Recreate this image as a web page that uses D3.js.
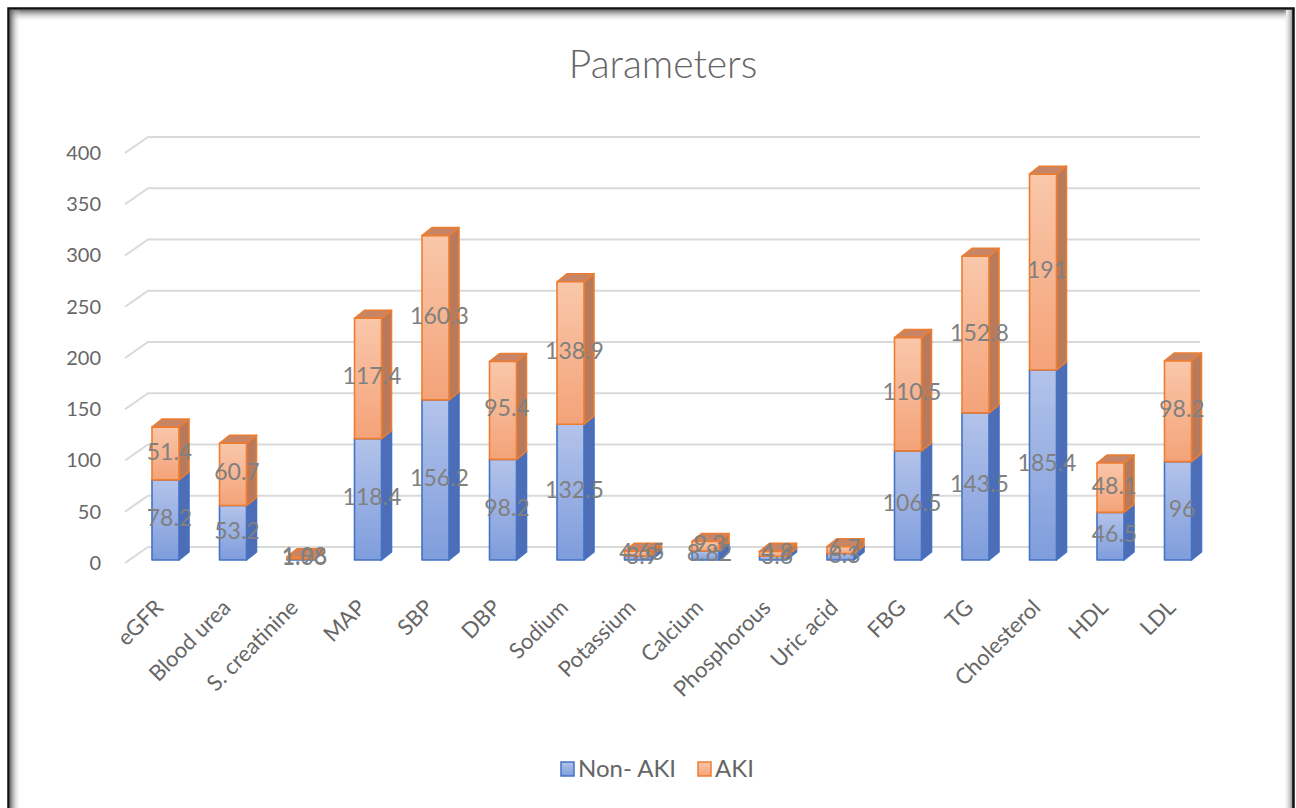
<!DOCTYPE html>
<html>
<head>
<meta charset="utf-8">
<script src="https://cdn.jsdelivr.net/npm/d3@7"></script>
<style>
  html, body { margin: 0; padding: 0; background: #ffffff; }
  svg { display: block; }
</style>
</head>
<body>
<svg id="chart" width="1296" height="808"></svg>
<script>
// Parameter means by group
const categories = ["eGFR", "Blood urea", "S. creatinine", "MAP", "SBP", "DBP", "Sodium",
  "Potassium", "Calcium", "Phosphorous", "Uric acid", "FBG", "TG", "Cholesterol", "HDL", "LDL"];
const nonAki = [78.2, 53.2, 1.06, 118.4, 156.2, 98.2, 132.5, 3.9, 8.82, 3.6, 6.3, 106.5, 143.5, 185.4, 46.5, 96];
const aki    = [51.4, 60.7, 1.98, 117.4, 160.3, 95.4, 138.9, 4.65, 9.3, 4.8, 6.7, 110.5, 152.8, 191, 48.1, 98.2];
const seriesNames = ["Non- AKI", "AKI"];
const yTicks = [0, 50, 100, 150, 200, 250, 300, 350, 400];
const titleText = "Parameters";

const W = 1296, H = 808;
const svg = d3.select("#chart");
const defs = svg.append("defs");

const FONT = "Lato, 'Open Sans', sans-serif";
const TEXT = "#666666";

const styles = [
  { top: "#b3c3ea", bottom: "#7f9ddc", stroke: "#4472c4", side: "#4d6eb6", cap: "#6a8bcf" },
  { top: "#f9c7aa", bottom: "#f4a379", stroke: "#ed7d31", side: "#b87a5a", cap: "#c78566" }
];
styles.forEach((s, i) => {
  const g = defs.append("linearGradient").attr("id", "front" + i)
    .attr("x1", 0).attr("y1", 0).attr("x2", 0).attr("y2", 1);
  g.append("stop").attr("offset", "0%").attr("stop-color", s.top);
  g.append("stop").attr("offset", "100%").attr("stop-color", s.bottom);
});

// Frame with a soft inner shadow
const shadow = defs.append("linearGradient").attr("id", "shadowV").attr("x1", 0).attr("y1", 0).attr("x2", 0).attr("y2", 1);
shadow.append("stop").attr("offset", "0%").attr("stop-color", "#555").attr("stop-opacity", 0.85);
shadow.append("stop").attr("offset", "100%").attr("stop-color", "#fff").attr("stop-opacity", 0);
const shadowH = defs.append("linearGradient").attr("id", "shadowH").attr("x1", 0).attr("y1", 0).attr("x2", 1).attr("y2", 0);
shadowH.append("stop").attr("offset", "0%").attr("stop-color", "#555").attr("stop-opacity", 0.85);
shadowH.append("stop").attr("offset", "100%").attr("stop-color", "#fff").attr("stop-opacity", 0);
const shadowR = defs.append("linearGradient").attr("id", "shadowR").attr("x1", 1).attr("y1", 0).attr("x2", 0).attr("y2", 0);
shadowR.append("stop").attr("offset", "0%").attr("stop-color", "#666").attr("stop-opacity", 0.8);
shadowR.append("stop").attr("offset", "100%").attr("stop-color", "#fff").attr("stop-opacity", 0);

svg.append("rect").attr("x", 0).attr("y", 0).attr("width", W).attr("height", H).attr("fill", "#fff");
svg.append("rect").attr("x", 10).attr("y", 10).attr("width", W - 20).attr("height", 12).attr("fill", "url(#shadowV)");
svg.append("rect").attr("x", 10).attr("y", 10).attr("width", 11).attr("height", H).attr("fill", "url(#shadowH)");
svg.append("rect").attr("x", 1283).attr("y", 10).attr("width", 10).attr("height", H).attr("fill", "url(#shadowR)");
svg.append("path").attr("d", `M8.5,${H + 5} V8.5 H1293.5 V${H + 5}`)
  .attr("fill", "none").attr("stroke", "#111").attr("stroke-width", 2.5);

// Scales
const x = d3.scaleBand().domain(categories).range([131.75, 1211.75]).paddingInner(0.6).paddingOuter(0.3);
const y = d3.scaleLinear().domain([0, 400]).range([560, 150]);
const wallDx = 23, wallDy = 16;     // offset of back wall from front plane
const depthDx = 10, depthDy = 8;    // bar depth

// Gridlines: back wall plus left side diagonals
const grid = svg.append("g").attr("stroke", "#d9d9d9").attr("stroke-width", 2).attr("fill", "none");
yTicks.forEach(v => {
  const yb = y(v) - 13;
  grid.append("path").attr("d", `M${125},${yb + wallDy} L${125 + wallDx},${yb} H1200`);
});

// Y axis labels
const yAxis = d3.axisLeft(y).tickValues(yTicks).tickSize(0).tickPadding(0);
const yg = svg.append("g").attr("transform", "translate(101,3)").call(yAxis);
yg.select(".domain").remove();
yg.selectAll("text").attr("font-family", FONT).attr("font-size", 20).attr("fill", TEXT);

// Stacked bars
const rows = categories.map((c, i) => ({ cat: c, nonAki: nonAki[i], aki: aki[i] }));
const stack = d3.stack().keys(["nonAki", "aki"])(rows);

const bars = svg.append("g");
categories.forEach((c, i) => {
  stack.forEach((layer, k) => {
    const s = styles[k];
    const d = layer[i];
    const x0 = x(c), w = x.bandwidth();
    const yTop = y(d[1]), yBot = y(d[0]);
    const g = bars.append("g").attr("stroke", s.stroke).attr("stroke-width", 1.6).attr("stroke-linejoin", "round");
    // side face
    g.append("path").attr("fill", s.side)
      .attr("d", `M${x0 + w},${yBot} L${x0 + w},${yTop} L${x0 + w + depthDx},${yTop - depthDy} L${x0 + w + depthDx},${yBot - depthDy} Z`);
    // top face
    g.append("path").attr("fill", s.cap)
      .attr("d", `M${x0},${yTop} L${x0 + depthDx},${yTop - depthDy} L${x0 + w + depthDx},${yTop - depthDy} L${x0 + w},${yTop} Z`);
    // front face
    g.append("rect").attr("x", x0).attr("y", yTop).attr("width", w).attr("height", Math.max(0.5, yBot - yTop))
      .attr("fill", `url(#front${k})`);
  });
});

// Value labels
const labels = svg.append("g").attr("font-family", FONT).attr("font-size", 23).attr("fill", "#808080")
  .attr("text-anchor", "middle").attr("dominant-baseline", "central");
categories.forEach((c, i) => {
  stack.forEach((layer, k) => {
    const d = layer[i];
    const v = k === 0 ? nonAki[i] : aki[i];
    labels.append("text")
      .attr("x", x(c) + x.bandwidth() / 2 + 4)
      .attr("y", (y(d[0]) + y(d[1])) / 2 - 3)
      .text(String(v));
  });
});

// Category labels
const xl = svg.append("g").attr("font-family", FONT).attr("font-size", 22).attr("fill", TEXT);
categories.forEach(c => {
  const cx = x(c) + x.bandwidth() / 2 - 1;
  const cy = 609;
  xl.append("text").attr("text-anchor", "end")
    .attr("transform", `translate(${cx},${cy}) rotate(-45)`)
    .text(c);
});

// Title
svg.append("text").attr("x", 663).attr("y", 78).attr("text-anchor", "middle")
  .attr("font-family", FONT).attr("font-weight", 300).attr("font-size", 39).attr("fill", TEXT).text(titleText);

// Legend
const legend = svg.append("g").attr("font-family", FONT).attr("font-size", 24).attr("fill", TEXT);
const legendX = [561, 698];
seriesNames.forEach((name, k) => {
  legend.append("rect").attr("x", legendX[k]).attr("y", 762).attr("width", 13).attr("height", 14)
    .attr("fill", `url(#front${k})`).attr("stroke", styles[k].stroke).attr("stroke-width", 1.5);
  legend.append("text").attr("x", legendX[k] + 17).attr("y", 777).text(name);
});
</script>
</body>
</html>
